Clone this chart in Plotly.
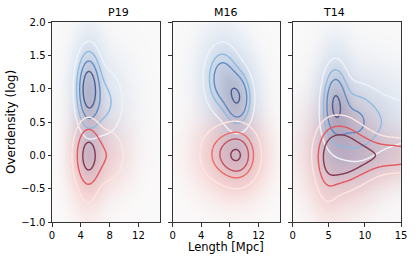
import numpy as np
import plotly.graph_objects as go

# ---- data: Gaussian-mixture components ----
# each component: (centre_length, centre_overdensity, sigma_length, sigma_overdensity, rho, weight)
PANELS = ["P19", "M16", "T14"]

P19_BLUE = [(5.1, 1.0, 0.9, 0.30, 0.0, 1.0), (7.2, 0.8, 1.6, 0.3, 0.0, 0.22)]
P19_RED = [(5.05, 0.0, 0.95, 0.24, 0.0, 1.0), (7.5, 0.0, 1.4, 0.22, 0.0, 0.25), (5.0, -0.4, 0.9, 0.3, 0.0, 0.08)]
M16_BLUE = [(6.9, 1.15, 1.35, 0.28, 0.0, 0.8), (9.1, 0.85, 1.15, 0.25, 0.0, 1.0)]
M16_RED = [(9.2, 0.0, 1.45, 0.22, 0.0, 1.0), (7.0, 0.02, 1.7, 0.22, 0.0, 0.5)]
T14_BLUE = [(5.9, 0.8, 1.0, 0.32, 0.0, 1.0), (8.5, 0.5, 2.2, 0.32, 0.0, 0.65), (14.0, 0.5, 3.0, 0.3, 0.0, 0.22)]
T14_RED = [(6.5, 0.02, 1.8, 0.28, 0.0, 1.0), (9.5, 0.0, 1.8, 0.22, 0.0, 0.45), (14.0, 0.0, 3.0, 0.15, 0.0, 0.55),
           (4.8, -0.2, 1.0, 0.35, 0.0, 0.25)]

# contour levels (fraction of peak) and their line colours
P19_BLUE_LEVELS = [0.056, 0.17, 0.37, 0.67]
P19_RED_LEVELS = [0.056, 0.26, 0.7]
M16_BLUE_LEVELS = [0.1, 0.3, 0.5, 0.93]
M16_RED_LEVELS = [0.07, 0.3, 0.55, 0.93]
T14_BLUE_LEVELS = [0.1, 0.27, 0.5, 0.9]
T14_RED_LEVELS = [0.1, 0.3, 0.55]

BLUE_COLORS = ["#eef3fa", "#8cbbe2", "#5b8cc6", "#4b5d92"]
RED_COLORS4 = ["#fce6e2", "#ee6a62", "#c4525f", "#84384f"]
RED_COLORS3 = ["#fce6e2", "#e5575c", "#84384f"]

X_TICKS = [[0, 4, 8, 12], [0, 4, 8, 12], [0, 5, 10, 15]]
Y_TICKS = [-1.0, -0.5, 0.0, 0.5, 1.0, 1.5, 2.0]

xg = np.linspace(0, 15, 181)
yg = np.linspace(-1, 2, 181)
XX, YY = np.meshgrid(xg, yg)


def density(comps, grow=1.0):
    d = np.zeros_like(XX)
    for cx, cy, sx, sy, rho, w in comps:
        u = (XX - cx) / (sx * grow)
        v = (YY - cy) / (sy * grow)
        q = (u * u - 2 * rho * u * v + v * v) / (1 - rho * rho)
        d += w * np.exp(-0.5 * q)
    return d / d.max()


panel_data = [
    (P19_BLUE, P19_BLUE_LEVELS, BLUE_COLORS, P19_RED, P19_RED_LEVELS, RED_COLORS3),
    (M16_BLUE, M16_BLUE_LEVELS, BLUE_COLORS, M16_RED, M16_RED_LEVELS, RED_COLORS4),
    (T14_BLUE, T14_BLUE_LEVELS, BLUE_COLORS, T14_RED, T14_RED_LEVELS, RED_COLORS3),
]

fig = go.Figure()
W, H = 415, 260
ml, mr, mt, mb = 52, 14, 22, 38
pw = W - ml - mr
domains = [[0, 108 / pw], [(172.7 - ml) / pw, (280 - ml) / pw], [(292.7 - ml) / pw, 1.0]]

RED_SHADE = [[0, "rgba(240,110,105,0)"], [0.4, "rgba(238,110,105,0.24)"], [1, "rgba(175,100,125,0.46)"]]
BLUE_SHADE = [[0, "rgba(120,165,215,0)"], [0.4, "rgba(120,165,215,0.22)"], [1, "rgba(90,110,160,0.46)"]]

for i, (bc, bl, bcol, rc, rl, rcol) in enumerate(panel_data):
    xa = "x" if i == 0 else f"x{i+1}"
    ya = "y" if i == 0 else f"y{i+1}"
    db = density(bc)
    dr = density(rc)
    sb = density(bc, 1.4)
    sr = density(rc, 1.4)
    fig.add_trace(go.Heatmap(x=xg, y=yg, z=sr ** 0.6, zmin=0, zmax=1, showscale=False, zsmooth="best",
                             colorscale=RED_SHADE, hoverinfo="skip", xaxis=xa, yaxis=ya))
    fig.add_trace(go.Heatmap(x=xg, y=yg, z=sb ** 0.6, zmin=0, zmax=1, showscale=False, zsmooth="best",
                             colorscale=BLUE_SHADE, hoverinfo="skip", xaxis=xa, yaxis=ya))
    for d, levels, cols in ((db, bl, bcol), (dr, rl, rcol)):
        for lev, col in zip(levels, cols):
            fig.add_trace(go.Contour(x=xg, y=yg, z=d, autocontour=False,
                                     contours=dict(start=lev, end=lev, size=1, coloring="none"),
                                     line=dict(color=col, width=1.4, smoothing=1.0), showscale=False,
                                     hoverinfo="skip", xaxis=xa, yaxis=ya))

axis_common = dict(showline=True, mirror=True, linecolor="#333333", linewidth=1, ticks="outside",
                   ticklen=3.5, tickwidth=1, tickcolor="#333333", showgrid=False, zeroline=False,
                   automargin=False, tickfont=dict(size=10, color="#000000"))
layout = dict(width=W, height=H, margin=dict(l=ml, r=mr, t=mt, b=mb), showlegend=False,
              paper_bgcolor="white", plot_bgcolor="rgb(250,249,249)",
              font=dict(family="DejaVu Sans", size=10, color="#000000"))
for i in range(3):
    k = "" if i == 0 else str(i + 1)
    layout["xaxis" + k] = dict(axis_common, domain=domains[i], range=[0, 15], tickvals=X_TICKS[i],
                               anchor="y" + k)
    layout["yaxis" + k] = dict(axis_common, domain=[0, 1], range=[-1, 2], tickvals=Y_TICKS,
                               tickformat=".1f", showticklabels=(i == 0), anchor="x" + k)
fig.update_layout(**layout)

annotations = []
for i, name in enumerate(PANELS):
    annotations.append(dict(text=name, x=sum(domains[i]) / 2, y=1.0, xref="paper", yref="paper",
                            yanchor="bottom", yshift=1, showarrow=False, font=dict(size=11)))
annotations.append(dict(text="Length [Mpc]", x=sum(domains[1]) / 2, y=0, xref="paper", yref="paper",
                        yanchor="top", yshift=-16, showarrow=False, font=dict(size=11.5)))
annotations.append(dict(text="Overdensity (log)", x=0, y=0.5, xref="paper", yref="paper", textangle=-90,
                        xanchor="right", xshift=-32, showarrow=False, font=dict(size=12)))
fig.update_layout(annotations=annotations)

fig.write_html("out.html", config={"displayModeBar": False},
               post_script="document.body.style.margin='0px';")
